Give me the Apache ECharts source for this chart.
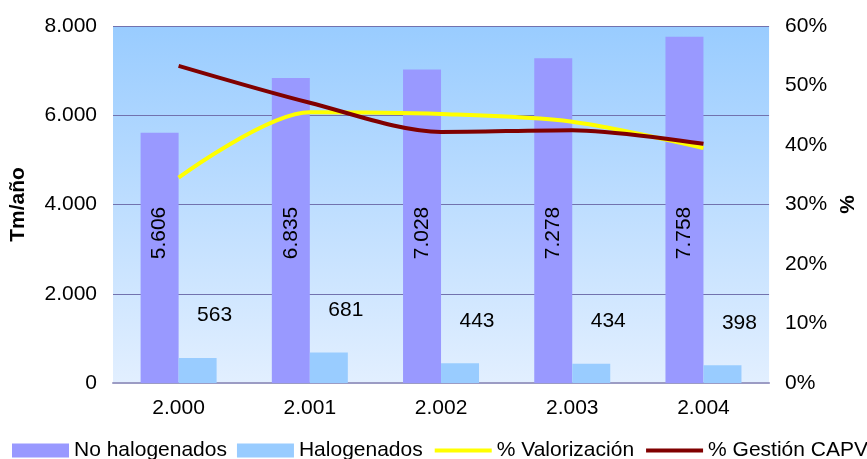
<!DOCTYPE html>
<html>
<head>
<meta charset="utf-8">
<script src="https://cdn.jsdelivr.net/npm/echarts@6/dist/echarts.min.js"></script>
<style>
html,body{margin:0;padding:0;background:#fff;}
#chart{width:867px;height:459px;}
</style>
</head>
<body>
<div id="chart"></div>
<script>
const categories = ['2.000', '2.001', '2.002', '2.003', '2.004'];
const noHalogenados = [5606, 6835, 7028, 7278, 7758];
const halogenados = [563, 681, 443, 434, 398];
const valorizacion = [34.5, 45.5, 45.2, 43.9, 39.5];
const gestionCAPV = [53.3, 47.1, 42.2, 42.5, 40.2];

const fmt = v => v.toLocaleString('de-DE');
const FONT = '"Liberation Sans", Arial, sans-serif';

const chart = echarts.init(document.getElementById('chart'), null, {renderer: 'canvas'});
chart.setOption({
  animation: false,
  textStyle: {fontFamily: FONT},
  grid: {
    left: 112, right: 91, top: 26, bottom: 76,
    show: true,
    borderWidth: 0,
    backgroundColor: {
      type: 'linear', x: 0, y: 0, x2: 0, y2: 1,
      colorStops: [{offset: 0, color: '#99CCFF'}, {offset: 1, color: '#E2EFFF'}]
    }
  },
  legend: {
    top: 440,
    left: 12,
    width: 900,
    padding: 0,
    itemWidth: 57,
    itemHeight: 14,
    itemGap: 10,
    textStyle: {fontSize: 21, color: '#000', fontFamily: FONT},
    data: [
      {name: 'No halogenados', icon: 'rect'},
      {name: 'Halogenados', icon: 'rect'},
      {name: '% Valorización', itemStyle: {opacity: 0}, lineStyle: {width: 4}},
      {name: '% Gestión CAPV', itemStyle: {opacity: 0}, lineStyle: {width: 4}}
    ]
  },
  xAxis: {
    type: 'category',
    data: categories,
    axisTick: {show: false},
    axisLine: {lineStyle: {color: '#9C9CC4', width: 2}},
    axisLabel: {fontSize: 21, color: '#000', margin: 15, fontFamily: FONT}
  },
  yAxis: [
    {
      type: 'value', min: 0, max: 8000, interval: 2000,
      name: 'Tm/año', nameLocation: 'middle', nameGap: 84, nameRotate: 90,
      nameTextStyle: {fontSize: 21, fontWeight: 'bold', color: '#000', fontFamily: FONT},
      axisLine: {show: false}, axisTick: {show: false},
      axisLabel: {fontSize: 21, color: '#000', margin: 16, formatter: v => fmt(v), fontFamily: FONT},
      splitLine: {lineStyle: {color: '#7272AE', width: 1}}
    },
    {
      type: 'value', min: 0, max: 60, interval: 10, position: 'right',
      name: '%', nameLocation: 'middle', nameGap: 68, nameRotate: 90,
      nameTextStyle: {fontSize: 21, fontWeight: 'bold', color: '#000', fontFamily: FONT},
      axisLine: {show: false}, axisTick: {show: false},
      axisLabel: {fontSize: 21, color: '#000', margin: 16, formatter: '{value}%', fontFamily: FONT},
      splitLine: {show: false}
    }
  ],
  series: [
    {
      name: 'No halogenados', type: 'bar', data: noHalogenados,
      barWidth: 38, barGap: '0%',
      itemStyle: {color: '#9999FF'},
      label: {
        show: true, position: 'insideBottom', distance: 150, rotate: 90,
        align: 'center', verticalAlign: 'middle',
        fontSize: 21, color: '#000', fontFamily: FONT,
        formatter: p => fmt(p.value)
      }
    },
    {
      name: 'Halogenados', type: 'bar', data: halogenados,
      barWidth: 38,
      itemStyle: {color: '#99CCFF'},
      label: {
        show: true, position: 'top', distance: 32, offset: [17, 0],
        fontSize: 21, color: '#000', fontFamily: FONT,
        formatter: p => fmt(p.value)
      }
    },
    {
      name: '% Valorización', type: 'line', yAxisIndex: 1, data: valorizacion,
      smooth: 0.3, symbol: 'none',
      lineStyle: {color: '#FFFF00', width: 4},
      itemStyle: {color: '#FFFF00'},
      z: 3
    },
    {
      name: '% Gestión CAPV', type: 'line', yAxisIndex: 1, data: gestionCAPV,
      smooth: 0.3, symbol: 'none',
      lineStyle: {color: '#800000', width: 4},
      itemStyle: {color: '#800000'},
      z: 4
    }
  ]
});
</script>
</body>
</html>
